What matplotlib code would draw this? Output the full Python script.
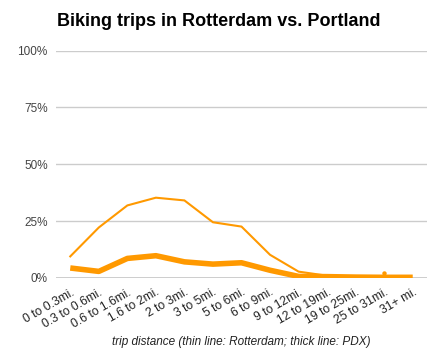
import numpy as np
import matplotlib

matplotlib.use("Agg")
import matplotlib.pyplot as plt

categories = [
    "0 to 0.3mi.", "0.3 to 0.6mi.", "0.6 to 1.6mi.", "1.6 to 2mi.",
    "2 to 3mi.", "3 to 5mi.", "5 to 6mi.", "6 to 9mi.", "9 to 12mi.",
    "12 to 19mi.", "19 to 25mi.", "25 to 31mi.", "31+ mi.",
]
# share of trips, percent (NaN = no value)
rotterdam = [9.5, 22.2, 31.9, 35.3, 34.1, 24.5, 22.6, 10.2, 2.8, 1.0,
             np.nan, 2.0, np.nan]
portland = [4.4, 2.9, 8.6, 9.8, 7.1, 6.1, 6.7, 3.4, 0.7, 0.6, 0.4, 0.3, 0.3]
yticks = [0, 25, 50, 75, 100]

plt.rcParams["font.family"] = ["Liberation Sans", "DejaVu Sans"]

orange = "#ff9900"
fig = plt.figure(figsize=(4.37, 3.49), dpi=100)
ax = fig.add_axes([56 / 437, 1 - 278 / 349, 371 / 437, 227.5 / 349])

x = np.arange(len(categories))
ax.plot(x, portland, color=orange, lw=4.0, solid_joinstyle="round",
        solid_capstyle="butt", zorder=3)
ax.plot(x, rotterdam, color=orange, lw=1.5, solid_joinstyle="miter",
        zorder=4)
# isolated Rotterdam points drawn as dots
r = np.array(rotterdam)
iso = [i for i in range(len(r)) if not np.isnan(r[i])
       and (i == 0 or np.isnan(r[i - 1]))
       and (i == len(r) - 1 or np.isnan(r[i + 1]))]
ax.plot(x[iso], r[iso], "o", color=orange, ms=3.2, mec="none", zorder=4)

ax.set_xlim(-0.5, len(categories) - 0.5)
ax.set_ylim(0, 100)
ax.set_yticks(yticks)
ax.set_yticklabels([f"{v}%" for v in yticks], fontsize=8.5, color="#444444")
ax.yaxis.grid(True, color="#cccccc", lw=1)
ax.axhline(0, color="#333333", lw=1, zorder=2)
ax.set_axisbelow(True)

ax.set_xticks(x)
ax.set_xticklabels(categories, rotation=30, ha="right",
                   rotation_mode="anchor", fontsize=8.7, color="#222222")
ax.tick_params(length=0, pad=6)
for s in ax.spines.values():
    s.set_visible(False)

ax.set_xlabel("trip distance (thin line: Rotterdam; thick line: PDX)",
              fontsize=8.5, style="italic", color="#222222", labelpad=4)
fig.text(57 / 437, 1 - 22 / 349, "Biking trips in Rotterdam vs. Portland",
         fontsize=13, fontweight="bold", va="center", ha="left")

fig.savefig("out.png", dpi=100)
